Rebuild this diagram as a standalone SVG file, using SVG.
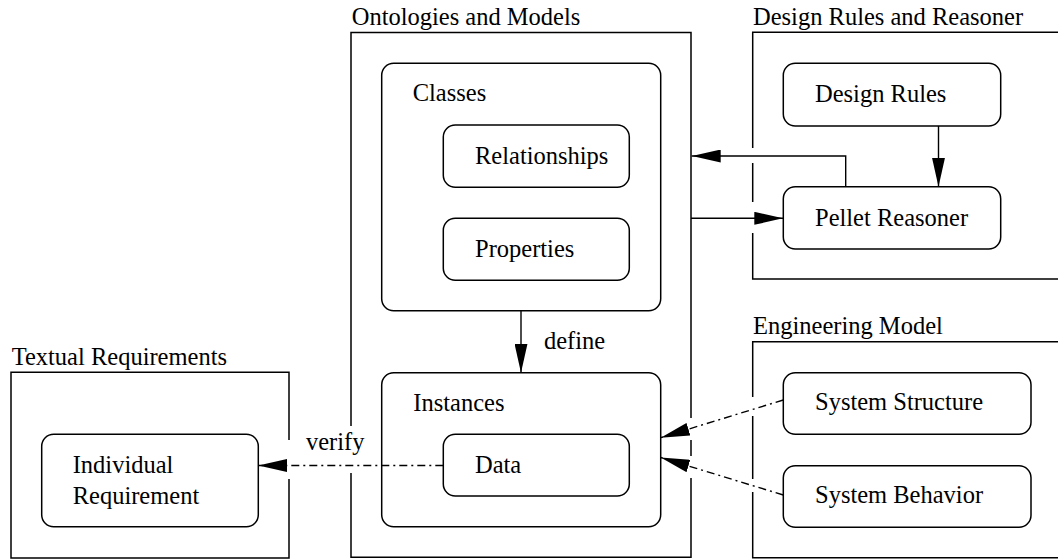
<svg xmlns="http://www.w3.org/2000/svg" width="1058" height="559" viewBox="0 0 1058 559" font-family="'Liberation Serif', 'Times New Roman', serif">
<style>
text{font-family:'Liberation Serif','Times New Roman',serif;font-size:24.5px;fill:#000}
.ctr{fill:none;stroke:#000;stroke-width:1.5}
.box{fill:#fff;stroke:#000;stroke-width:1.5}
.inner{fill:#fff;stroke:#000;stroke-width:1.5}
.conn{fill:none;stroke:#000;stroke-width:1.4}
.dd{stroke-dasharray:8 4 2 4}
</style>
<defs>
<marker id="ah" viewBox="0 0 29 13" refX="29" refY="6.5" markerWidth="29" markerHeight="13" markerUnits="userSpaceOnUse" orient="auto">
<path d="M0,0 L29,6.5 L0,13 Z" fill="#000" stroke="none"/>
</marker>
</defs>
<rect width="1058" height="559" fill="#fff"/>

<g id="textual-requirements">
<path class="ctr" d="M289,440 V372.3 H11 V558 H289 V479"/>
<text x="11.7" y="365">Textual Requirements</text>
</g>
<g id="ontologies-and-models">
<path class="ctr" d="M351,426 V32.5 H691 V418 M691,440 V456 M691,478 V557.3 H351 V473"/>
<text x="351.7" y="25">Ontologies and Models</text>
</g>
<g id="design-rules-and-reasoner">
<path class="ctr" d="M1062,32.3 H752.7 V148 M752.7,163 V202 M752.7,233 V279 H1062"/>
<text x="753" y="25">Design Rules and Reasoner</text>
</g>
<g id="engineering-model">
<path class="ctr" d="M1062,341.7 H752.7 V397 M752.7,416 V479 M752.7,492 V557.7 H1062"/>
<text x="753" y="334">Engineering Model</text>
</g>

<g id="classes">
<rect class="box" x="381.7" y="63.3" width="279" height="247.4" rx="12"/>
<text x="412.7" y="101">Classes</text>
</g>
<g id="relationships">
<rect class="inner" x="443.3" y="125" width="186" height="62.3" rx="12"/>
<text x="475" y="164">Relationships</text>
</g>
<g id="properties">
<rect class="inner" x="443.3" y="218.3" width="186" height="62" rx="12"/>
<text x="475" y="257">Properties</text>
</g>
<g id="instances">
<rect class="box" x="381.7" y="372.7" width="279" height="154" rx="12"/>
<text x="413.3" y="410.7">Instances</text>
</g>
<g id="data">
<rect class="inner" x="443.3" y="434.3" width="186" height="61.7" rx="12"/>
<text x="475" y="472.7">Data</text>
</g>
<g id="individual-requirement">
<rect class="inner" x="41.7" y="434.3" width="216.6" height="92.4" rx="12"/>
<text x="72.7" y="473.3">Individual</text>
<text x="72.7" y="504">Requirement</text>
</g>
<g id="design-rules">
<rect class="inner" x="783.3" y="63.3" width="217.4" height="62.7" rx="12"/>
<text x="815" y="101.7">Design Rules</text>
</g>
<g id="pellet-reasoner">
<rect class="inner" x="783.3" y="186.7" width="217.4" height="62.3" rx="12"/>
<text x="815" y="225.7">Pellet Reasoner</text>
</g>
<g id="system-structure">
<rect class="inner" x="783.3" y="372.7" width="247.7" height="61.6" rx="12"/>
<text x="815" y="410">System Structure</text>
</g>
<g id="system-behavior">
<rect class="inner" x="783.3" y="465.7" width="247.7" height="61.6" rx="12"/>
<text x="815" y="503.3">System Behavior</text>
</g>

<g id="connectors">
<path class="conn" d="M845.7,186.7 V156 H691.7" marker-end="url(#ah)"/>
<path class="conn" d="M691,218.3 H783.3" marker-end="url(#ah)"/>
<path class="conn" d="M938.5,126 V186.7" marker-end="url(#ah)"/>
<path class="conn" d="M521,310.7 V372.7" marker-end="url(#ah)"/>
<text x="544" y="349.3">define</text>
<path class="conn dd" d="M443.3,465.5 H258.3" marker-end="url(#ah)"/>
<text x="306" y="450">verify</text>
<path class="conn dd" d="M783.3,400 L660.7,437.7" marker-end="url(#ah)"/>
<path class="conn dd" d="M783.3,495 L660.7,457.5" marker-end="url(#ah)"/>
</g>
</svg>
